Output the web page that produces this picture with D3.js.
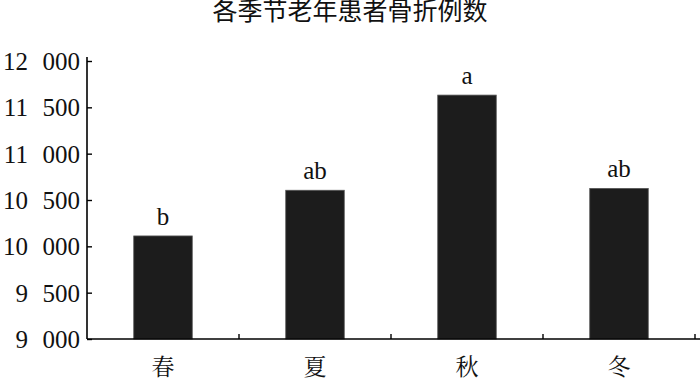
<!DOCTYPE html>
<html>
<head>
<meta charset="utf-8">
<script src="https://cdn.jsdelivr.net/npm/d3@7"></script>
<style>
  body { margin: 0; background: #fff; }
  .serif { font-family: "Liberation Serif", "Times New Roman", serif; }
  .cjk { font-family: "Noto Sans CJK SC", sans-serif; }
  .cjk-serif { font-family: "Noto Serif CJK SC", "Noto Sans CJK SC", serif; }
</style>
</head>
<body>
<div id="chart"></div>
<script>
// data
const seasons = ["春", "夏", "秋", "冬"];
const counts = [10112, 10605, 11632, 10625];
const groups = ["b", "ab", "a", "ab"];
const yTicks = [9000, 9500, 10000, 10500, 11000, 11500, 12000];

const width = 700;
const height = 383;
const margin = { top: 61, right: 5, bottom: 44, left: 87 };
const innerHeight = height - margin.top - margin.bottom;

const data = seasons.map((s, i) => ({ season: s, value: counts[i], group: groups[i] }));

const svg = d3.select("#chart")
  .append("svg")
  .attr("width", width)
  .attr("height", height)
  .style("background", "#fff");

const g = svg.append("g")
  .attr("transform", `translate(${margin.left}, ${margin.top})`);

const x = d3.scaleBand()
  .domain(seasons)
  .range([0, 608])
  .padding(0);

const y = d3.scaleLinear()
  .domain([9000, 12000])
  .range([innerHeight, 0]);

const barW = x.bandwidth() * 0.385;

g.selectAll("rect.bar")
  .data(data)
  .enter()
  .append("rect")
  .attr("class", "bar")
  .attr("x", d => x(d.season) + x.bandwidth() / 2 - barW / 2)
  .attr("y", d => y(d.value))
  .attr("width", barW)
  .attr("height", d => innerHeight - y(d.value))
  .attr("fill", "#1c1c1c")
  .attr("stroke", "#555")
  .attr("stroke-width", 0.8);

g.selectAll("text.sig")
  .data(data)
  .enter()
  .append("text")
  .attr("class", "sig serif")
  .attr("x", d => x(d.season) + x.bandwidth() / 2)
  .attr("y", d => y(d.value) - 11)
  .attr("text-anchor", "middle")
  .attr("font-size", 25)
  .attr("fill", "#111")
  .text(d => d.group);

// y axis, ticks pointing inside
const yAxis = g.append("g")
  .call(d3.axisLeft(y)
    .tickValues(yTicks)
    .tickSizeInner(-5)
    .tickSizeOuter(0)
    .tickPadding(7)
    .tickFormat(d => d3.format(",")(d).replace(",", "\u2002\u200a")));

yAxis.attr("font-family", null).attr("font-size", null);

yAxis.select(".domain")
  .attr("d", `M0,-4V${innerHeight}`)
  .attr("stroke", "#000")
  .attr("stroke-width", 1.6);
yAxis.selectAll(".tick line").attr("stroke", "#000").attr("stroke-width", 1.4);
yAxis.selectAll(".tick text")
  .attr("class", "serif")
  .attr("font-size", 25)
  .attr("fill", "#111")
  .attr("dy", "0.34em");

// x axis, ticks at category boundaries pointing up
const xAxis = g.append("g")
  .attr("transform", `translate(0, ${innerHeight})`);

xAxis.append("line")
  .attr("x1", 0)
  .attr("x2", width - margin.left)
  .attr("stroke", "#000")
  .attr("stroke-width", 1.6);

xAxis.selectAll("line.sep")
  .data(seasons)
  .enter()
  .append("line")
  .attr("class", "sep")
  .attr("x1", d => x(d) + x.bandwidth())
  .attr("x2", d => x(d) + x.bandwidth())
  .attr("y1", 0)
  .attr("y2", -5)
  .attr("stroke", "#000")
  .attr("stroke-width", 1.4);

xAxis.selectAll("text.cat")
  .data(seasons)
  .enter()
  .append("text")
  .attr("class", "cat cjk-serif")
  .attr("x", d => x(d) + x.bandwidth() / 2)
  .attr("y", 30)
  .attr("text-anchor", "middle")
  .attr("dominant-baseline", "middle")
  .attr("font-size", 23)
  .attr("fill", "#111")
  .text(d => d);

svg.append("text")
  .attr("class", "cjk")
  .attr("x", 350)
  .attr("y", 13)
  .attr("text-anchor", "middle")
  .attr("dominant-baseline", "middle")
  .attr("font-size", 25)
  .attr("fill", "#111")
  .text("各季节老年患者骨折例数");
</script>
</body>
</html>
